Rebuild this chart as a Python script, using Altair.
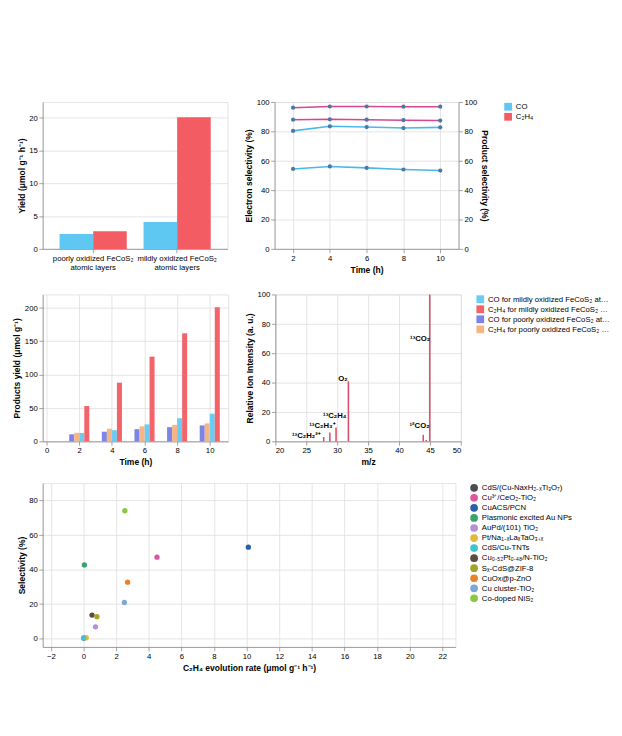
import altair as alt
import pandas as pd

FONT = "Liberation Sans"

# ---------------- panel a : yield ----------------
a_groups = ["poorly oxidized FeCoS₂|atomic layers", "mildly oxidized  FeCoS₂|atomic layers"]
a_series = ["CO", "C₂H₄"]
a_co = [2.3, 4.1]
a_co_err = [0.7, 0.5]
a_c2h4 = [2.7, 20.1]
a_c2h4_err = [0.8, 0.9]
a_colors = ["#5ec8f2", "#f35c62"]

# ---------------- panel b : selectivity vs time ----------------
b_time = [2, 4, 6, 8, 10]
b_elec_main = [96.2, 97.0, 97.0, 96.9, 96.9]
b_elec_other = [88.0, 88.3, 88.0, 87.7, 87.4]
b_prod_main = [80.4, 83.5, 83.0, 82.3, 82.8]
b_prod_other = [54.5, 56.2, 55.2, 54.1, 53.4]

# ---------------- panel c : cumulative yields ----------------
c_time = [2, 4, 6, 8, 10]
c_series = [
    "CO for mildly oxidized FeCoS₂ atomic layers",
    "C₂H₄ for mildly oxidized FeCoS₂ atomic layers",
    "CO for poorly oxidized FeCoS₂ atomic layers",
    "C₂H₄ for poorly oxidized FeCoS₂ atomic layers",
]
c_colors = ["#6ccbf1", "#f2636a", "#7d84e8", "#f5b585"]
c_mild_co = [12.5, 16.8, 25.5, 34.7, 41.5]
c_mild_c2h4 = [53, 88, 127, 162, 201]
c_poor_co = [10.6, 14.5, 18.3, 21.4, 24.0]
c_poor_c2h4 = [12.9, 19.0, 22.5, 24.8, 27.0]
c_offsets = [3.25, 9.75, -9.75, -3.25]

# ---------------- panel d : mass spectrum ----------------
d_mz = [27.8, 28.8, 29.8, 31.8, 43.9, 44.4, 44.95]
d_int = [3.0, 6.0, 9.5, 41.0, 4.5, 1.0, 100.0]
d_lbl_text = ["¹³C₂H₂²⁺", "¹³C₂H₃⁺", "¹³C₂H₄", "O₂", "¹³CO₂", "¹²CO₂"]
d_lbl_x = [25.0, 27.6, 29.6, 30.9, 43.4, 43.3]
d_lbl_y = [4.0, 10.4, 17.6, 43.0, 70.0, 10.4]

# ---------------- panel e : comparison ----------------
e_names = [
    "CdS/(Cu-NaxH₂₋ₓTi₃O₇)", "Cu³⁺/CeO₂-TiO₂", "CuACS/PCN", "Plasmonic excited Au NPs",
    "AuPd/(101) TiO₂", "Pt/Na₁₋ₓLaₓTaO₃₊ₓ", "CdS/Cu-TNTs", "Cu₀.₅₂Pt₀.₄₈/N-TiO₂",
    "Sₓ-CdS@ZIF-8", "CuOx@p-ZnO", "Cu cluster-TiO₂", "Co-doped NiS₂",
]
e_rate = [0.02, 4.5, 10.1, 0.05, 0.73, 0.16, 0.0, 0.52, 0.82, 2.7, 2.5, 2.53]
e_sel = [0.2, 47.1, 52.9, 42.6, 6.7, 0.4, 0.3, 13.5, 12.6, 32.6, 20.8, 74.0]
e_colors = ["#4d4d4d", "#e0559f", "#2b5fae", "#3aa46c", "#b48fdc", "#e2b93b",
            "#3cc4d6", "#5e4b3f", "#a2a528", "#e9822a", "#7fa6d6", "#8dc641"]

# ======== panel a ========
rows = []
for g, v, e in zip(a_groups, a_co, a_co_err):
    rows.append(dict(group=g, series="CO", value=v, lo=v - e, hi=v + e))
for g, v, e in zip(a_groups, a_c2h4, a_c2h4_err):
    rows.append(dict(group=g, series="C₂H₄", value=v, lo=v - e, hi=v + e))
dfa = pd.DataFrame(rows)

xa = alt.X("group:N", sort=a_groups, title=None,
           axis=alt.Axis(labelExpr="split(datum.label, '|')", labelAngle=0))
bars_a = alt.Chart(dfa).mark_bar().encode(
    x=xa, xOffset=alt.XOffset("series:N", sort=a_series),
    y=alt.Y("value:Q", scale=alt.Scale(domain=[0, 22.4], nice=False), title="Yield (μmol g⁻¹ h⁻¹)"),
    color=alt.Color("series:N", scale=alt.Scale(domain=a_series, range=a_colors), title=None),
)
panel_a = bars_a.properties(width=239, height=190)

# ======== panel b ========
dfb = pd.DataFrame({
    "time": b_time * 4,
    "value": b_elec_main + b_elec_other + b_prod_main + b_prod_other,
    "series": ["em"] * 5 + ["eo"] * 5 + ["pm"] * 5 + ["po"] * 5,
})
xb = alt.X("time:Q", scale=alt.Scale(domain=[1, 11], nice=False), title="Time (h)")
left = alt.Chart(dfb).transform_filter("datum.series == 'em' || datum.series == 'eo'").mark_line(
    point=True, color="#d6478f").encode(x=xb, y=alt.Y("value:Q", scale=alt.Scale(domain=[0, 100]),
                                                      title="Electron selectivity (%)"), detail="series:N")
right = alt.Chart(dfb).transform_filter("datum.series == 'pm' || datum.series == 'po'").mark_line(
    point=True, color="#4cb8ea").encode(x=xb, y=alt.Y("value:Q", scale=alt.Scale(domain=[0, 100]),
                                                      title="Product selectivity (%)"), detail="series:N")
panel_b = alt.layer(left, right).resolve_scale(y="independent").properties(width=238, height=190)

# ======== panel c ========
c_vals = [c_mild_co, c_mild_c2h4, c_poor_co, c_poor_c2h4]
xc = alt.X("time:Q", scale=alt.Scale(domain=[0, 10.9], nice=False), title="Time (h)")
yc = alt.Y("value:Q", scale=alt.Scale(domain=[0, 220], nice=False), title="Products yield (μmol g⁻¹)")
cc = alt.Color("series:N", scale=alt.Scale(domain=c_series, range=c_colors), title=None)
c_layers = []
for name, vals, off in zip(c_series, c_vals, c_offsets):
    d = pd.DataFrame({"time": c_time, "value": vals, "series": name})
    c_layers.append(alt.Chart(d).mark_bar(width=6.5, xOffset=off).encode(x=xc, y=yc, color=cc))
panel_c = alt.layer(*c_layers).properties(width=240, height=190)

# ======== panel d ========
dfd = pd.DataFrame({"mz": d_mz, "intensity": d_int, "base": [0.0] * len(d_mz)})
dfl = pd.DataFrame({"mz": d_lbl_x, "intensity": d_lbl_y, "label": d_lbl_text})
xd = alt.X("mz:Q", scale=alt.Scale(domain=[20, 50], nice=False), title="m/z")
yd = alt.Y("intensity:Q", scale=alt.Scale(domain=[0, 100], nice=False), title="Relative Ion Intensity (a. u.)")
peaks = alt.Chart(dfd).mark_rule(color="#d94f6a", strokeWidth=2).encode(x=xd, y=yd, y2="base:Q")
peak_lbl = alt.Chart(dfl).mark_text(fontSize=10, fontWeight="bold").encode(x=xd, y=yd, text="label:N")
panel_d = alt.layer(peaks, peak_lbl).properties(width=240, height=190)

# ======== panel e ========
dfe = pd.DataFrame({"rate": e_rate, "sel": e_sel, "name": e_names})
panel_e = alt.Chart(dfe).mark_circle(size=48, opacity=1).encode(
    x=alt.X("rate:Q", scale=alt.Scale(domain=[-2.5, 22.8], nice=False), title="C₂H₄ evolution rate (μmol g⁻¹ h⁻¹)"),
    y=alt.Y("sel:Q", scale=alt.Scale(domain=[-5, 90], nice=False), title="Selectivity (%)"),
    color=alt.Color("name:N", scale=alt.Scale(domain=e_names, range=e_colors), title=None),
).properties(width=534, height=212)

chart = alt.vconcat(
    alt.hconcat(panel_a, panel_b),
    alt.hconcat(panel_c, panel_d),
    panel_e,
).resolve_scale(color="independent")

chart.save("out.html", embed_options={"renderer": "svg", "actions": False})
